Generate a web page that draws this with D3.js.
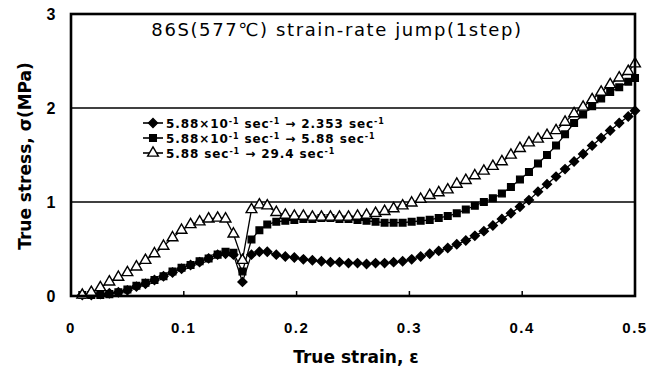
<!DOCTYPE html>
<html>
<head>
<meta charset="utf-8">
<script src="https://cdn.jsdelivr.net/npm/d3@7"></script>
<style>
html,body{margin:0;padding:0;background:#fff;}
svg{display:block;font-family:"Liberation Sans",Arial,sans-serif;}
</style>
</head>
<body>
<svg id="chart" width="661" height="375"></svg>
<script>
const strain = [0.010,0.018,0.026,0.034,0.042,0.050,0.058,0.066,0.074,0.082,0.090,0.098,0.106,0.114,0.122,0.130,0.137,0.144,0.152,0.160,0.167,0.174,0.182,0.190,0.198,0.206,0.214,0.222,0.230,0.238,0.246,0.254,0.262,0.270,0.278,0.286,0.294,0.302,0.310,0.318,0.326,0.334,0.342,0.350,0.358,0.366,0.374,0.382,0.390,0.398,0.406,0.414,0.422,0.430,0.438,0.446,0.454,0.462,0.470,0.478,0.486,0.494,0.500];
const stressDiamond = [0.01,0.01,0.02,0.03,0.04,0.06,0.10,0.13,0.17,0.21,0.25,0.29,0.33,0.36,0.40,0.44,0.45,0.44,0.15,0.44,0.47,0.47,0.44,0.42,0.41,0.39,0.38,0.37,0.36,0.36,0.35,0.35,0.34,0.35,0.35,0.36,0.37,0.39,0.42,0.45,0.48,0.51,0.55,0.59,0.64,0.69,0.75,0.82,0.88,0.95,1.02,1.11,1.19,1.27,1.35,1.43,1.51,1.60,1.68,1.76,1.84,1.91,1.97];
const stressSquare = [0.01,0.01,0.01,0.02,0.04,0.07,0.11,0.14,0.17,0.21,0.26,0.30,0.33,0.37,0.40,0.44,0.47,0.46,0.26,0.60,0.70,0.76,0.79,0.80,0.81,0.82,0.82,0.83,0.83,0.82,0.82,0.81,0.80,0.79,0.78,0.78,0.78,0.79,0.80,0.81,0.83,0.85,0.88,0.92,0.96,1.00,1.04,1.09,1.16,1.24,1.32,1.41,1.50,1.60,1.72,1.84,1.93,2.02,2.10,2.17,2.22,2.28,2.32];
const stressTriangle = [0.01,0.04,0.09,0.15,0.20,0.25,0.31,0.38,0.45,0.53,0.62,0.70,0.76,0.79,0.82,0.83,0.82,0.66,0.38,0.92,0.97,0.96,0.89,0.86,0.85,0.85,0.84,0.84,0.84,0.84,0.84,0.85,0.86,0.88,0.90,0.93,0.96,0.99,1.03,1.07,1.10,1.13,1.19,1.23,1.28,1.33,1.38,1.43,1.50,1.57,1.63,1.67,1.71,1.76,1.85,1.94,2.01,2.09,2.17,2.25,2.32,2.39,2.47];
const xTicks = [0,0.1,0.2,0.3,0.4,0.5];
const yTicks = [0,1,2,3];
const gridValues = [1,2];
const titleText = "86S(577\u2103) strain-rate jump(1step)";
const xLabel = "True strain, \u03b5";
const yLabel = "True stress, \u03c3(MPa)";
const legendParts = [
  ["5.88\u00d710", "-1", " sec", "-1", " \u2192 2.353 sec", "-1"],
  ["5.88\u00d710", "-1", " sec", "-1", " \u2192 5.88 sec", "-1"],
  ["5.88 sec", "-1", " \u2192 29.4 sec", "-1"]
];

// square-ish diamond symbol (rotated square)
const squareDiamond = {
  draw(ctx, size) {
    const r = Math.sqrt(size / 2);
    ctx.moveTo(0, -r); ctx.lineTo(r, 0); ctx.lineTo(0, r); ctx.lineTo(-r, 0); ctx.closePath();
  }
};

const series = [
  {name:"diamond", values: stressDiamond, symbol: squareDiamond, size: 40, fill:"#000"},
  {name:"square", values: stressSquare, symbol: d3.symbolSquare, size: 44, fill:"#000"},
  {name:"triangle", values: stressTriangle, symbol: d3.symbolTriangle, size: 50, fill:"#fff"}
];

const svg = d3.select("#chart");
const L = 71, R = 635, T = 14, B = 296;
const x = d3.scaleLinear().domain([0,0.5]).range([L,R]);
const y = d3.scaleLinear().domain([0,3]).range([B,T]);

// gridlines
svg.append("g").selectAll("line").data(gridValues).join("line")
  .attr("x1",L).attr("x2",R).attr("y1",d=>y(d)).attr("y2",d=>y(d))
  .attr("stroke","#000").attr("stroke-width",1.6);

// x ticks (inward)
svg.append("g").selectAll("line").data(xTicks.slice(1,-1)).join("line")
  .attr("x1",d=>x(d)).attr("x2",d=>x(d)).attr("y1",B).attr("y2",B-5)
  .attr("stroke","#000").attr("stroke-width",1.5);

// series
const line = d3.line().x((d,i)=>x(strain[i])).y(d=>y(d));
series.forEach(s=>{
  svg.append("path").datum(s.values).attr("d",line)
    .attr("fill","none").attr("stroke","#000").attr("stroke-width",1.3);
});
series.forEach(s=>{
  const sym = d3.symbol().type(s.symbol).size(s.size);
  svg.append("g").selectAll("path").data(s.values).join("path")
    .attr("transform",(d,i)=>`translate(${x(strain[i])},${y(d)})`)
    .attr("d",sym).attr("fill",s.fill).attr("stroke","#000").attr("stroke-width",1.4);
});

// frame
svg.append("rect").attr("x",L).attr("y",T).attr("width",R-L).attr("height",B-T)
  .attr("fill","none").attr("stroke","#000").attr("stroke-width",2.6);

// tick labels
svg.append("g").selectAll("text").data(xTicks).join("text")
  .attr("x",d=>x(d)).attr("y",333).attr("text-anchor","middle")
  .attr("font-size",15).attr("font-weight","bold").attr("letter-spacing",1.5)
  .text(d=>d===0?"0":d3.format(".1f")(d));
svg.append("g").selectAll("text").data(yTicks).join("text")
  .attr("x",51).attr("y",d=>y(d)+6).attr("text-anchor","middle")
  .attr("font-size",16).attr("font-weight","bold")
  .text(d=>d);

// axis titles
svg.append("text").attr("x",356).attr("y",363).attr("text-anchor","middle")
  .attr("font-family","DejaVu Sans").attr("font-size",17).attr("font-weight","bold").text(xLabel);
svg.append("text").attr("transform","translate(31,156) rotate(-90)").attr("text-anchor","middle")
  .attr("font-family","DejaVu Sans").attr("font-size",17).attr("font-weight","bold").text(yLabel);

// title
svg.append("text").attr("x",337).attr("y",36).attr("text-anchor","middle")
  .attr("font-family","DejaVu Sans").attr("font-size",18).attr("letter-spacing",1.6).text(titleText);

// legend
const legY = [123,138,153];
series.forEach((s,i)=>{
  const g = svg.append("g");
  g.append("line").attr("x1",143).attr("x2",163).attr("y1",legY[i]).attr("y2",legY[i])
    .attr("stroke","#000").attr("stroke-width",1.6);
  g.append("path").attr("transform",`translate(153,${legY[i]})`)
    .attr("d",d3.symbol().type(s.symbol).size(s.size)()).attr("fill",s.fill)
    .attr("stroke","#000").attr("stroke-width",1.4);
  const t = g.append("text").attr("x",166).attr("y",legY[i]+4.5)
    .attr("font-family","DejaVu Sans").attr("font-size",12).attr("font-weight","bold")
    .attr("letter-spacing",0.9);
  legendParts[i].forEach((p,j)=>{
    const ts = t.append("tspan").text(p);
    if(j%2===1){ ts.attr("dy",-4).attr("font-size",8); }
    else if(j>0){ ts.attr("dy",4); }
  });
});
</script>
</body>
</html>
